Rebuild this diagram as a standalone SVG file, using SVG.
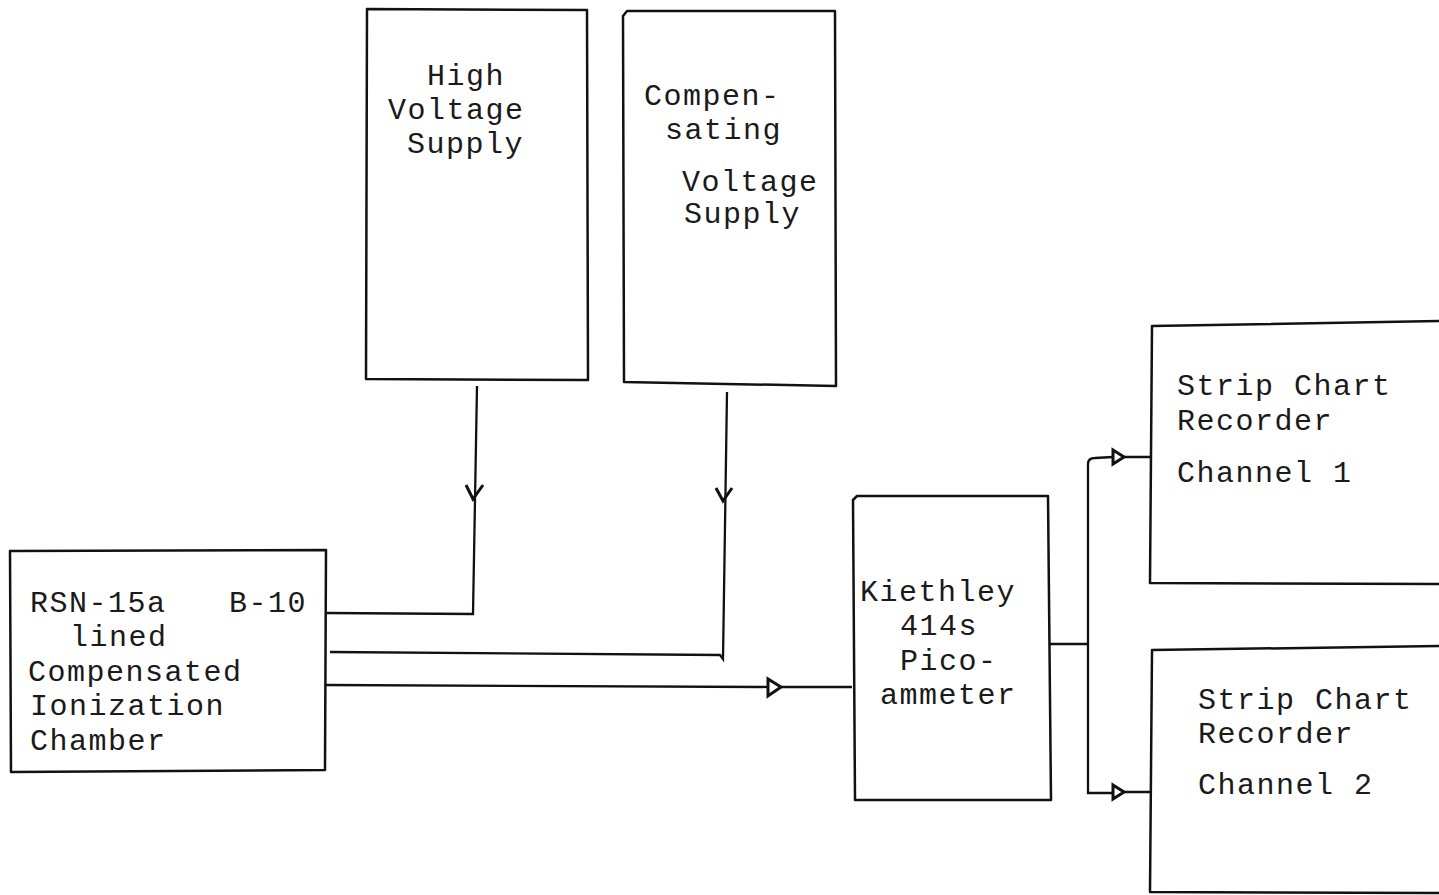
<svg xmlns="http://www.w3.org/2000/svg" width="1439" height="895" viewBox="0 0 1439 895">
<style>
.box{fill:none;stroke:#111;stroke-width:2.5;stroke-linejoin:round}
.ln{fill:none;stroke:#111;stroke-width:2.3}
.ah{fill:none;stroke:#111;stroke-width:3;stroke-linejoin:miter}
text{font-family:"Liberation Mono","Courier New",monospace;font-size:30px;fill:#1a1a1a;letter-spacing:1.5px}
</style>
<rect width="1439" height="895" fill="#fff"/>
<g id="hv">
<path class="box" d="M367,9 L587,10 L588,380 L366,379 Z"/>
<text x="427" y="85">High</text>
<text x="388" y="119">Voltage</text>
<text x="407" y="153">Supply</text>
</g>
<g id="comp">
<path class="box" d="M627,11 L835,11 L836,386 L624,382 L623,16 Z"/>
<text x="644" y="105">Compen-</text>
<text x="665" y="139">sating</text>
<text x="682" y="191">Voltage</text>
<text x="684" y="223">Supply</text>
</g>
<g id="chamber">
<path class="box" d="M10,551 L326,550 L325,770 L11,772 Z"/>
<text x="30" y="612">RSN-15a</text>
<text x="229" y="612">B-10</text>
<text x="70" y="646">lined</text>
<text x="28" y="681">Compensated</text>
<text x="30" y="715">Ionization</text>
<text x="30" y="750">Chamber</text>
</g>
<g id="pico">
<path class="box" d="M857,496 L1048,496 L1051,800 L855,800 L853,500 Z"/>
<text x="860" y="601">Kiethley</text>
<text x="900" y="635">414s</text>
<text x="900" y="670">Pico-</text>
<text x="880" y="704">ammeter</text>
</g>
<g id="rec1">
<path class="box" d="M1445,321 L1152,326 L1150,583 L1445,584"/>
<text x="1177" y="395">Strip Chart</text>
<text x="1177" y="430">Recorder</text>
<text x="1177" y="482">Channel 1</text>
</g>
<g id="rec2">
<path class="box" d="M1445,646 L1152,650 L1150,892 L1445,893"/>
<text x="1198" y="709">Strip Chart</text>
<text x="1198" y="743">Recorder</text>
<text x="1198" y="794">Channel 2</text>
</g>
<g id="connectors">
<path class="ln" d="M477,386 L473,614 L327,613"/>
<path class="ah" d="M466,485 L473,499 L483,485"/>
<path class="ln" d="M727,392 L723,659 L720,655 L330,652"/>
<path class="ah" d="M716,488 L723,501 L732,488"/>
<path class="ln" d="M326,685 L768,687 M780,687 L852,687"/>
<path class="ah" d="M768,679 L768,696 L781,687 Z"/>
<path class="ln" d="M1049,644 L1088,644"/>
<path class="ln" d="M1088,464 L1088,793 L1113,793 M1123,792 L1150,792"/>
<path class="ln" d="M1088,464 Q1088,458 1095,458 L1113,457 M1123,457 L1150,457"/>
<path class="ah" d="M1113,450 L1113,464 L1124,457 Z"/>
<path class="ah" d="M1113,785 L1113,799 L1124,792 Z"/>
</g>
</svg>
